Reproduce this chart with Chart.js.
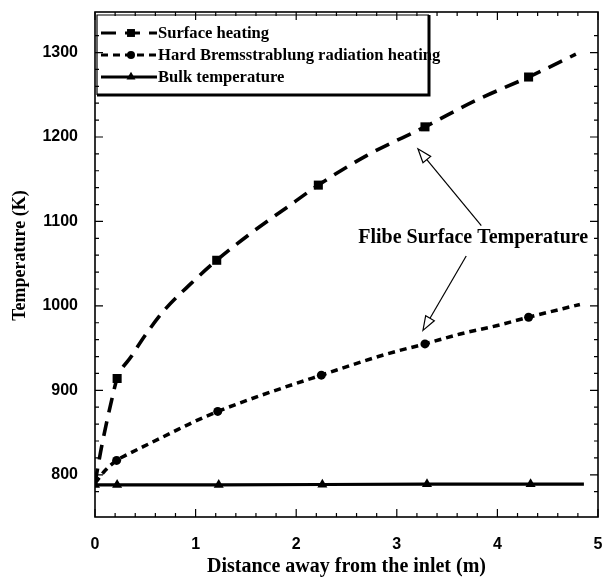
<!DOCTYPE html>
<html><head><meta charset="utf-8">
<script src="https://cdn.jsdelivr.net/npm/chart.js@4/dist/chart.umd.min.js"></script>
<style>html,body{margin:0;padding:0;background:#fff}#wrap{width:604px;height:582px}</style>
</head><body><div id="wrap"><canvas id="c" width="604" height="582"></canvas></div>
<script>
// ---- data ----
const surfaceX = [0, 0.07, 0.165, 0.22, 0.36, 0.51, 0.69, 0.95, 1.21, 1.56, 1.9, 2.22, 2.7, 3.28, 3.78, 4.31, 4.78];
const surfaceY = [790, 836, 888, 914, 940, 967, 995, 1026, 1054, 1087, 1116, 1143, 1178, 1212, 1243, 1271, 1298];
const surfaceMarks = [3, 8, 11, 13, 15];

const bremsX = [0, 0.1, 0.215, 0.33, 0.56, 0.78, 0.97, 1.22, 1.64, 2.25, 2.9, 3.28, 3.63, 3.99, 4.31, 4.82];
const bremsY = [790, 805, 817, 824.5, 838, 851, 862, 875, 893.6, 918, 943, 955, 966.7, 976.5, 986.6, 1001.7];
const bremsMarks = [2, 7, 9, 11, 14];

const bulkX = [0, 0.22, 1.23, 2.26, 3.3, 4.33, 4.86];
const bulkY = [788, 788, 788, 788.5, 789, 789, 789];
const bulkMarks = [0, 1, 2, 3, 4, 5];

const seriesNames = ['Surface heating', 'Hard Bremsstrablung radiation heating', 'Bulk temperature'];
const xTitle = 'Distance away from the inlet (m)';
const yTitle = '    Temperature (K)';
const annotationText = 'Flibe Surface Temperature';
const annotationAt = {x: 3.76, y: 1081};
const arrows = [
  {from: {x: 3.84, y: 1095}, to: {x: 3.21, y: 1186}},
  {from: {x: 3.69, y: 1059}, to: {x: 3.26, y: 971}}
];
const xRange = {min: 0, max: 5, minor: 0.2, major: 1};
const yRange = {min: 750, max: 1348, minor: 20, major: 100};

function pts(xs, ys) { return xs.map((x, i) => ({x: x, y: ys[i]})); }
function near(v, step) { return Math.abs(v / step - Math.round(v / step)) < 1e-6; }

const SERIF = '"Liberation Serif", "Times New Roman", serif';
const SANS = '"Liberation Sans", Arial, sans-serif';

const datasets = [
  {label: seriesNames[0], data: pts(surfaceX, surfaceY), borderColor: '#000', borderWidth: 3.6,
   borderDash: [15, 9], pointStyle: 'rect', backgroundColor: '#000',
   pointRadius: c => surfaceMarks.includes(c.dataIndex) ? 6.4 : 0, pointBackgroundColor: '#000', pointBorderWidth: 0,
   cubicInterpolationMode: 'monotone', fill: false},
  {label: seriesNames[1], data: pts(bremsX, bremsY), borderColor: '#000', borderWidth: 3.5,
   borderDash: [7, 5], pointStyle: 'circle', backgroundColor: '#000',
   pointRadius: c => bremsMarks.includes(c.dataIndex) ? 4.5 : 0, pointBackgroundColor: '#000', pointBorderWidth: 0,
   cubicInterpolationMode: 'monotone', fill: false},
  {label: seriesNames[2], data: pts(bulkX, bulkY), borderColor: '#000', borderWidth: 3.2,
   borderDash: [], pointStyle: 'triangle', backgroundColor: '#000',
   pointRadius: c => bulkMarks.includes(c.dataIndex) ? 5.8 : 0, pointBackgroundColor: '#000', pointBorderWidth: 0,
   tension: 0, fill: false}
];

function drawMarker(ctx, style, x, y, r) {
  ctx.beginPath();
  if (style === 'rect') { const s = r * Math.SQRT1_2; ctx.rect(x - s, y - s, 2 * s, 2 * s); }
  else if (style === 'circle') { ctx.arc(x, y, r, 0, Math.PI * 2); }
  else if (style === 'triangle') {
    ctx.moveTo(x, y - r); ctx.lineTo(x + r * 0.866, y + r * 0.5); ctx.lineTo(x - r * 0.866, y + r * 0.5); ctx.closePath();
  }
  ctx.fill();
}

const framePlugin = {
  id: 'frame',
  afterDatasetsDraw(chart) {
    const ctx = chart.ctx, a = chart.chartArea, xs = chart.scales.x, ys = chart.scales.y;
    ctx.save();
    ctx.strokeStyle = '#000'; ctx.fillStyle = '#000';
    ctx.lineWidth = 1.6;
    ctx.strokeRect(a.left, a.top, a.right - a.left, a.bottom - a.top);
    ctx.lineWidth = 1.2;
    xs.ticks.forEach(t => {
      if (!near(t.value, xRange.minor)) return;
      const px = xs.getPixelForValue(t.value);
      const len = near(t.value, xRange.major) ? 8 : 4;
      ctx.beginPath();
      ctx.moveTo(px, a.bottom); ctx.lineTo(px, a.bottom - len);
      ctx.moveTo(px, a.top); ctx.lineTo(px, a.top + len);
      ctx.stroke();
    });
    ys.ticks.forEach(t => {
      if (!near(t.value, yRange.minor)) return;
      const py = ys.getPixelForValue(t.value);
      const len = near(t.value, yRange.major) ? 8 : 4;
      ctx.beginPath();
      ctx.moveTo(a.left, py); ctx.lineTo(a.left + len, py);
      ctx.moveTo(a.right, py); ctx.lineTo(a.right - len, py);
      ctx.stroke();
    });
    ctx.lineWidth = 1.2;
    arrows.forEach(ar => {
      const x0 = xs.getPixelForValue(ar.from.x), y0 = ys.getPixelForValue(ar.from.y);
      const x1 = xs.getPixelForValue(ar.to.x), y1 = ys.getPixelForValue(ar.to.y);
      const ang = Math.atan2(y1 - y0, x1 - x0);
      const hl = 14, hw = 5;
      const bx = x1 - hl * Math.cos(ang), by = y1 - hl * Math.sin(ang);
      ctx.beginPath(); ctx.moveTo(x0, y0); ctx.lineTo(bx, by); ctx.stroke();
      ctx.beginPath();
      ctx.moveTo(x1, y1);
      ctx.lineTo(bx + hw * Math.sin(ang), by - hw * Math.cos(ang));
      ctx.lineTo(bx - hw * Math.sin(ang), by + hw * Math.cos(ang));
      ctx.closePath();
      ctx.fillStyle = '#fff'; ctx.fill(); ctx.stroke();
    });
    ctx.fillStyle = '#000';
    ctx.font = 'bold 20px ' + SERIF;
    ctx.textAlign = 'center'; ctx.textBaseline = 'middle';
    ctx.fillText(annotationText, xs.getPixelForValue(annotationAt.x), ys.getPixelForValue(annotationAt.y));

    const L = a.left + 2, T = a.top + 3, R = a.left + 334, B = a.top + 83;
    const rowY = [T + 18, T + 40, T + 62];
    ctx.font = 'bold 16.6px ' + SERIF;
    ctx.textAlign = 'left'; ctx.textBaseline = 'middle';
    chart.data.datasets.forEach((ds, i) => {
      const y = rowY[i];
      ctx.save();
      ctx.lineWidth = Math.min(ds.borderWidth, 3);
      ctx.setLineDash(ds.borderDash || []);
      ctx.beginPath(); ctx.moveTo(L + 4, y); ctx.lineTo(L + 60, y); ctx.stroke();
      ctx.restore();
      drawMarker(ctx, ds.pointStyle, L + 34, y, i === 0 ? 5.6 : (i === 1 ? 4 : 5.2));
      ctx.fillText(ds.label, L + 61, y + 1);
    });
    ctx.lineWidth = 1.2;
    ctx.beginPath(); ctx.moveTo(L, B); ctx.lineTo(L, T); ctx.lineTo(R, T); ctx.stroke();
    ctx.lineWidth = 3;
    ctx.beginPath(); ctx.moveTo(R, T); ctx.lineTo(R, B); ctx.lineTo(L, B); ctx.stroke();
    ctx.restore();
  }
};

function fixX(s) { s.height = 65; s.paddingLeft = 0; s.paddingRight = 0; s.paddingTop = 0; s.paddingBottom = 0; }
function fixY(s) { s.width = 95; s.paddingLeft = 0; s.paddingRight = 0; s.paddingTop = 0; s.paddingBottom = 0; }

new Chart(document.getElementById('c'), {
  type: 'line',
  data: {datasets: datasets},
  options: {
    responsive: false, animation: false, devicePixelRatio: 1,
    layout: {padding: {top: 12, right: 6, left: 0, bottom: 0}},
    plugins: {legend: {display: false}, tooltip: {enabled: false}},
    scales: {
      x: {
        type: 'linear', min: xRange.min, max: xRange.max,
        ticks: {stepSize: xRange.minor, autoSkip: false, maxRotation: 0, padding: 18, color: '#000',
          font: {family: SANS, weight: 'bold', size: 16},
          callback: v => near(v, xRange.major) ? String(Math.round(v)) : ''},
        grid: {display: false, drawTicks: false},
        border: {display: false},
        title: {display: true, text: xTitle, color: '#000', font: {family: SERIF, weight: 'bold', size: 20}, padding: {top: 0, bottom: 3}},
        afterFit: fixX
      },
      y: {
        type: 'linear', min: yRange.min, max: yRange.max,
        ticks: {stepSize: yRange.minor, autoSkip: false, padding: 17, color: '#000',
          font: {family: SANS, weight: 'bold', size: 16},
          callback: v => near(v, yRange.major) ? String(Math.round(v)) : ''},
        grid: {display: false, drawTicks: false},
        border: {display: false},
        title: {display: true, text: yTitle, color: '#000', font: {family: SERIF, weight: 'bold', size: 18}, padding: {top: 10, bottom: 0}},
        afterFit: fixY
      }
    }
  },
  plugins: [framePlugin]
});
</script>
</body></html>
